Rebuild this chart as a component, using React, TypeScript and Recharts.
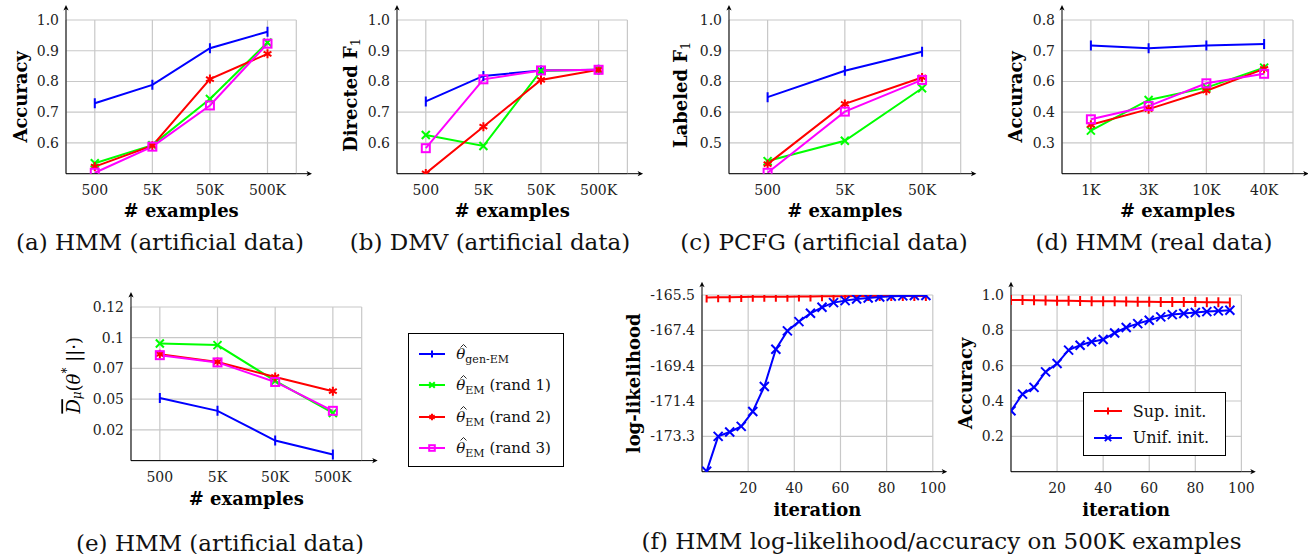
import React from 'react'
import { LineChart, Line, XAxis, YAxis, CartesianGrid, Legend } from 'recharts'

const SERIF = '"DejaVu Serif", serif'
const BLUE = '#0000ff'
const GREEN = '#00ff00'
const RED = '#ff0000'
const MAGENTA = '#ff00ff'

// x positions of the categories (index on a numeric axis)
const catPos4 = [1, 2, 3, 4]
const catPos3 = [1, 2, 3]

// (a) HMM, artificial data
const aSizes = ['500', '5K', '50K', '500K']
const aGenEM = [0.729, 0.789, 0.908, 0.962]
const aRand1 = [0.534, 0.593, 0.743, 0.927]
const aRand2 = [0.523, 0.591, 0.808, 0.89]
const aRand3 = [0.503, 0.588, 0.722, 0.923]
const aTicks = [0.6, 0.7, 0.8, 0.9, 1.0]
const aLabels = ['0.6', '0.7', '0.8', '0.9', '1.0']

// (b) DMV, artificial data
const bSizes = ['500', '5K', '50K', '500K']
const bGenEM = [0.735, 0.818, 0.836, 0.838]
const bRand1 = [0.626, 0.59, 0.835, 0.838]
const bRand2 = [0.501, 0.653, 0.805, 0.838]
const bRand3 = [0.583, 0.807, 0.836, 0.838]
const bTicks = [0.6, 0.7, 0.8, 0.9, 1.0]
const bLabels = ['0.6', '0.7', '0.8', '0.9', '1.0']

// (c) PCFG, artificial data (tick labels are printed unevenly in the original)
const cSizes = ['500', '5K', '50K']
const cGenEM = [0.749, 0.835, 0.897]
const cRand1 = [0.541, 0.607, 0.778]
const cRand2 = [0.531, 0.727, 0.813]
const cRand3 = [0.503, 0.702, 0.805]
const cTicks = [0.6, 0.7, 0.8, 0.9, 1.0]
const cLabels = ['0.5', '0.6', '0.8', '0.9', '1.0']

// (d) HMM, real data
const dSizes = ['1K', '3K', '10K', '40K']
const dGenEM = [0.717, 0.708, 0.717, 0.722]
const dRand1 = [0.44, 0.54, 0.58, 0.645]
const dRand2 = [0.459, 0.51, 0.57, 0.641]
const dRand3 = [0.477, 0.52, 0.594, 0.625]
const dTicks = [0.4, 0.5, 0.6, 0.7, 0.8]
const dLabels = ['0.3', '0.4', '0.6', '0.7', '0.8']

// (e) HMM, artificial data, divergence
const eSizes = ['500', '5K', '50K', '500K']
const eGenEM = [0.046, 0.0355, 0.0113, 0.0]
const eRand1 = [0.0903, 0.089, 0.0599, 0.0338]
const eRand2 = [0.0816, 0.0753, 0.0631, 0.0515]
const eRand3 = [0.0808, 0.0749, 0.059, 0.0355]
const eTicks = [0.02, 0.045, 0.07, 0.095, 0.12]
const eLabels = ['0.02', '0.05', '0.07', '0.1', '0.12']

// (f) log-likelihood per iteration
const llIter = [2, 7, 12, 17, 22, 27, 32, 37, 42, 47, 52, 57, 62, 67, 72, 77, 82, 87, 92, 97]
const llSup = [-165.64, -165.63, -165.62, -165.61, -165.6, -165.6, -165.59, -165.59, -165.58, -165.58, -165.57, -165.57, -165.57, -165.56, -165.56, -165.56, -165.55, -165.55, -165.55, -165.55]
const llUnif = [-175.23, -173.3, -173.06, -172.75, -171.93, -170.55, -168.49, -167.48, -166.97, -166.51, -166.18, -165.92, -165.81, -165.72, -165.67, -165.61, -165.57, -165.55, -165.53, -165.53]
const llTicks = [-173.3, -171.35, -169.4, -167.45, -165.5]
const llLabels = ['-173.3', '-171.4', '-169.4', '-167.4', '-165.5']

// (f) accuracy per iteration
const accIter = [0, 5, 10, 15, 20, 25, 30, 35, 40, 45, 50, 55, 60, 65, 70, 75, 80, 85, 90, 95]
const accSup = [0.972, 0.971, 0.97, 0.969, 0.968, 0.967, 0.966, 0.965, 0.965, 0.964, 0.963, 0.962, 0.962, 0.961, 0.961, 0.96, 0.96, 0.959, 0.959, 0.958]
const accUnif = [0.345, 0.439, 0.477, 0.565, 0.612, 0.688, 0.716, 0.735, 0.748, 0.785, 0.816, 0.838, 0.857, 0.876, 0.889, 0.895, 0.901, 0.906, 0.91, 0.914]
const accTicks = [0.2, 0.4, 0.6, 0.8, 1.0]
const accLabels = ['0.2', '0.4', '0.6', '0.8', '1.0']

const iterTicks = [20, 40, 60, 80, 100]
const iterLabels = ['20', '40', '60', '80', '100']

type MarkerKind = 'bar' | 'x' | 'star' | 'square'
type Series = { key: string; color: string; marker: MarkerKind; size: number; width: number }
type AxisSpec = { domain: [number, number]; ticks: number[]; labels: string[] }

const emSeries: Series[] = [
  { key: 'gen', color: BLUE, marker: 'bar', size: 5, width: 2 },
  { key: 'r1', color: GREEN, marker: 'x', size: 4, width: 2 },
  { key: 'r2', color: RED, marker: 'star', size: 4.5, width: 2 },
  { key: 'r3', color: MAGENTA, marker: 'square', size: 4, width: 2 },
]

const iterSeries: Series[] = [
  { key: 'sup', color: RED, marker: 'bar', size: 5, width: 2 },
  { key: 'unif', color: BLUE, marker: 'x', size: 4.5, width: 2 },
]

function sizeRows(xs: number[], gen: number[], r1: number[], r2: number[], r3: number[]) {
  return xs.map((x, i) => ({ x, gen: gen[i], r1: r1[i], r2: r2[i], r3: r3[i] }))
}

function iterRows(xs: number[], sup: number[], unif: number[]) {
  return xs.map((x, i) => ({ x, sup: sup[i], unif: unif[i] }))
}

function Mark({ kind, cx, cy, color, s, w }: { kind: MarkerKind; cx: number; cy: number; color: string; s: number; w: number }) {
  if (kind === 'bar') return <line x1={cx} x2={cx} y1={cy - s} y2={cy + s} stroke={color} strokeWidth={w} />
  if (kind === 'x')
    return (
      <g stroke={color} strokeWidth={w}>
        <line x1={cx - s} y1={cy - s} x2={cx + s} y2={cy + s} />
        <line x1={cx - s} y1={cy + s} x2={cx + s} y2={cy - s} />
      </g>
    )
  if (kind === 'star') {
    const a = s * 0.866
    const b = s * 0.5
    return (
      <g stroke={color} strokeWidth={w}>
        <line x1={cx} y1={cy - s} x2={cx} y2={cy + s} />
        <line x1={cx - a} y1={cy - b} x2={cx + a} y2={cy + b} />
        <line x1={cx - a} y1={cy + b} x2={cx + a} y2={cy - b} />
      </g>
    )
  }
  return <rect x={cx - s} y={cy - s} width={2 * s} height={2 * s} fill="none" stroke={color} strokeWidth={w} />
}

const YW = 80
const MT = 22
const XH = 62

type PanelProps = {
  plotLeft: number
  plotTop: number
  plotW: number
  plotH: number
  data: Record<string, number>[]
  series: Series[]
  xAxis: AxisSpec
  yAxis: AxisSpec
  xTitle: string
  xTitleGap: number
  yTitle: React.ReactNode
  yTitleDx: number
  yTitleDy?: number
  arrowX: number
  arrowY: number
  right?: number
  children?: React.ReactNode
}

const fmt = (spec: AxisSpec) => (v: number) => {
  const i = spec.ticks.findIndex((t) => Math.abs(t - v) < 1e-9)
  return i >= 0 ? spec.labels[i] : ''
}

function Panel(p: PanelProps) {
  const right = p.right ?? 24
  const width = YW + p.plotW + right
  const height = MT + p.plotH + XH
  const x0 = YW
  const y0 = MT + p.plotH
  const xEnd = YW + p.plotW
  const tipX = xEnd + p.arrowX
  const tipY = MT - p.arrowY
  const tcx = YW - p.yTitleDx
  const tcy = MT + p.plotH / 2 + (p.yTitleDy ?? 0)

  const xLabel = () => (
    <g>
      <line x1={xEnd} y1={y0} x2={tipX - 3} y2={y0} stroke="#000" strokeWidth={1} />
      <path d={`M${tipX},${y0} L${tipX - 5.5},${y0 - 2.6} L${tipX - 4},${y0} L${tipX - 5.5},${y0 + 2.6} Z`} fill="#000" />
      <text
        x={YW + p.plotW / 2}
        y={y0 + p.xTitleGap}
        textAnchor="middle"
        dominantBaseline="central"
        fontFamily={SERIF}
        fontSize={18}
        fontWeight="bold"
        fill="#000"
      >
        {p.xTitle}
      </text>
    </g>
  )

  const yLabel = () => (
    <g>
      <line x1={x0} y1={MT} x2={x0} y2={tipY + 3} stroke="#000" strokeWidth={1} />
      <path d={`M${x0},${tipY} L${x0 - 2.6},${tipY + 5.5} L${x0},${tipY + 4} L${x0 + 2.6},${tipY + 5.5} Z`} fill="#000" />
      <text
        x={tcx}
        y={tcy}
        transform={`rotate(-90 ${tcx} ${tcy})`}
        textAnchor="middle"
        dominantBaseline="central"
        fontFamily={SERIF}
        fontSize={18}
        fontWeight="bold"
        fill="#000"
      >
        {p.yTitle}
      </text>
    </g>
  )

  return (
    <div style={{ position: 'absolute', left: p.plotLeft - YW, top: p.plotTop - MT }}>
      <LineChart width={width} height={height} data={p.data} margin={{ top: MT, right, bottom: 0, left: 0 }}>
        <CartesianGrid stroke="#c8c8c8" strokeWidth={1.2} />
        <XAxis
          type="number"
          dataKey="x"
          domain={p.xAxis.domain}
          ticks={p.xAxis.ticks}
          interval={0}
          allowDataOverflow
          tickFormatter={fmt(p.xAxis)}
          tickLine={false}
          tickSize={0}
          tickMargin={11}
          height={XH}
          axisLine={{ stroke: '#000', strokeWidth: 1 }}
          tick={{ fill: '#222', fontSize: 14, fontFamily: SERIF }}
          label={xLabel}
        />
        <YAxis
          type="number"
          domain={p.yAxis.domain}
          ticks={p.yAxis.ticks}
          interval={0}
          allowDataOverflow
          tickFormatter={fmt(p.yAxis)}
          tickLine={false}
          tickSize={0}
          tickMargin={7}
          width={YW}
          axisLine={{ stroke: '#000', strokeWidth: 1 }}
          tick={{ fill: '#222', fontSize: 14, fontFamily: SERIF }}
          label={yLabel}
        />
        {p.series.map((s) => (
          <Line
            key={s.key}
            type="linear"
            dataKey={s.key}
            stroke={s.color}
            strokeWidth={s.width}
            isAnimationActive={false}
            activeDot={false}
            dot={(d: any) => (
              <Mark key={`${s.key}-${d.index}`} kind={s.marker} cx={d.cx} cy={d.cy} color={s.color} s={s.size} w={s.width} />
            )}
          />
        ))}
        {p.children}
      </LineChart>
    </div>
  )
}

function Swatch({ s, w }: { s: Series; w: number }) {
  return (
    <svg width={w} height={12} style={{ display: 'block', flex: 'none' }}>
      <line x1={0} y1={6} x2={w} y2={6} stroke={s.color} strokeWidth={s.width} />
      <Mark kind={s.marker} cx={w / 2} cy={6} color={s.color} s={s.size * 0.7} w={s.width} />
    </svg>
  )
}

// theta with a hat drawn as a small path, so the accent is not a second text run
const theta = (
  <span style={{ position: 'relative', display: 'inline-block', fontStyle: 'italic' }}>
    {'\u03b8'}
    <svg width={7} height={4} style={{ position: 'absolute', left: 3.5, top: -1.5, overflow: 'visible' }}>
      <polyline points="0.5,3.5 3.5,0.5 6.5,3.5" fill="none" stroke="#111" strokeWidth={0.9} />
    </svg>
  </span>
)
const sub = (t: string) => <span style={{ fontSize: 11, position: 'relative', top: 4 }}>{t}</span>

const emNames: React.ReactNode[] = [
  <>{theta}{sub('gen-EM')}</>,
  <>{theta}{sub('EM')} (rand 1)</>,
  <>{theta}{sub('EM')} (rand 2)</>,
  <>{theta}{sub('EM')} (rand 3)</>,
]
const iterNames = ['Sup. init.', 'Unif. init.']

const emLegend = () => (
  <div
    style={{
      boxSizing: 'border-box',
      width: 156,
      height: 134,
      border: '1px solid #000',
      background: '#fff',
      padding: '5px 0 0 10px',
      fontFamily: SERIF,
      fontSize: 15,
      color: '#111',
    }}
  >
    {emSeries.map((s, i) => (
      <div key={s.key} style={{ display: 'flex', alignItems: 'center', height: 31.2, whiteSpace: 'nowrap' }}>
        <Swatch s={s} w={26} />
        <span style={{ marginLeft: 11 }}>{emNames[i]}</span>
      </div>
    ))}
  </div>
)

const iterLegend = () => (
  <div
    style={{
      boxSizing: 'border-box',
      width: 143,
      height: 64,
      border: '1px solid #000',
      background: '#fff',
      padding: '5px 0 0 10px',
      fontFamily: SERIF,
      fontSize: 16,
      color: '#111',
    }}
  >
    {iterSeries.map((s, i) => (
      <div key={s.key} style={{ display: 'flex', alignItems: 'center', height: 26.7, whiteSpace: 'nowrap' }}>
        <Swatch s={s} w={28} />
        <span style={{ marginLeft: 11 }}>{iterNames[i]}</span>
      </div>
    ))}
  </div>
)

function Caption({ cx, cy, children }: { cx: number; cy: number; children: React.ReactNode }) {
  return (
    <div
      style={{
        position: 'absolute',
        left: cx,
        top: cy,
        transform: 'translate(-50%, -50%)',
        whiteSpace: 'nowrap',
        fontFamily: SERIF,
        fontSize: 23,
        lineHeight: 1,
        color: '#111',
      }}
    >
      {children}
    </div>
  )
}

const catAxis = (labels: string[], pos: number[]): AxisSpec => ({
  domain: [0.5, pos.length + 0.5],
  ticks: pos,
  labels,
})

export default function App() {
  return (
    <div style={{ position: 'absolute', left: 0, top: 0, width: 1308, height: 554, background: '#fff', overflow: 'hidden' }}>
      <Panel
        plotLeft={65.7}
        plotTop={20}
        plotW={230.3}
        plotH={153.7}
        data={sizeRows(catPos4, aGenEM, aRand1, aRand2, aRand3)}
        series={emSeries}
        xAxis={catAxis(aSizes, catPos4)}
        yAxis={{ domain: [0.5, 1.0], ticks: aTicks, labels: aLabels }}
        xTitle="# examples"
        xTitleGap={36.5}
        yTitle="Accuracy"
        yTitleDx={45.7}
        arrowX={15.7}
        arrowY={15}
      />
      <Panel
        plotLeft={397.3}
        plotTop={20}
        plotW={230.4}
        plotH={153.7}
        data={sizeRows(catPos4, bGenEM, bRand1, bRand2, bRand3)}
        series={emSeries}
        xAxis={catAxis(bSizes, catPos4)}
        yAxis={{ domain: [0.5, 1.0], ticks: bTicks, labels: bLabels }}
        xTitle="# examples"
        xTitleGap={36.5}
        yTitle={
          <>
            <tspan>Directed F</tspan>
            <tspan dy={5} fontWeight="normal" fontSize={13}>1</tspan>
          </>
        }
        yTitleDx={46.6}
        yTitleDy={-2}
        arrowX={15.7}
        arrowY={15}
      />
      <Panel
        plotLeft={729.3}
        plotTop={20}
        plotW={231.7}
        plotH={153.7}
        data={sizeRows(catPos3, cGenEM, cRand1, cRand2, cRand3)}
        series={emSeries}
        xAxis={catAxis(cSizes, catPos3)}
        yAxis={{ domain: [0.5, 1.0], ticks: cTicks, labels: cLabels }}
        xTitle="# examples"
        xTitleGap={36.5}
        yTitle={
          <>
            <tspan>Labeled F</tspan>
            <tspan dy={5} fontWeight="normal" fontSize={13}>1</tspan>
          </>
        }
        yTitleDx={48.6}
        yTitleDy={-2}
        arrowX={15.7}
        arrowY={15}
      />
      <Panel
        plotLeft={1061.7}
        plotTop={20}
        plotW={231}
        plotH={153.7}
        data={sizeRows(catPos4, dGenEM, dRand1, dRand2, dRand3)}
        series={emSeries}
        xAxis={catAxis(dSizes, catPos4)}
        yAxis={{ domain: [0.3, 0.8], ticks: dTicks, labels: dLabels }}
        xTitle="# examples"
        xTitleGap={36.5}
        yTitle="Accuracy"
        yTitleDx={46.7}
        arrowX={15.7}
        arrowY={15}
      />
      <Panel
        plotLeft={131}
        plotTop={306.7}
        plotW={230.7}
        plotH={153.6}
        data={sizeRows(catPos4, eGenEM, eRand1, eRand2, eRand3)}
        series={emSeries}
        xAxis={catAxis(eSizes, catPos4)}
        yAxis={{ domain: [-0.005, 0.12], ticks: eTicks, labels: eLabels }}
        xTitle="# examples"
        xTitleGap={38}
        yTitle={
          <>
            <tspan fontWeight="normal" fontStyle="italic" style={{ textDecoration: 'overline' }}>D</tspan>
            <tspan fontWeight="normal" fontStyle="italic" fontSize={12} dy={4}>{'\u03bc'}</tspan>
            <tspan fontWeight="normal" dy={-4}>(</tspan>
            <tspan fontWeight="normal" fontStyle="italic">{'\u03b8'}</tspan>
            <tspan fontWeight="normal" fontSize={12} dy={-6}>*</tspan>
            <tspan fontWeight="normal" dy={6}>{' ||\u00b7)'}</tspan>
          </>
        }
        yTitleDx={57.7}
        yTitleDy={-8.5}
        arrowX={16}
        arrowY={15}
        right={215}
      >
        <Legend
          layout="vertical"
          align="center"
          verticalAlign="middle"
          content={emLegend}
          wrapperStyle={{ left: 408.3 - 51, top: 332.7 - 284.7, width: 156, height: 134 }}
        />
      </Panel>
      <Panel
        plotLeft={701.5}
        plotTop={295}
        plotW={230.8}
        plotH={176.7}
        data={iterRows(llIter, llSup, llUnif)}
        series={iterSeries}
        xAxis={{ domain: [0, 100], ticks: iterTicks, labels: iterLabels }}
        yAxis={{ domain: [-175.25, -165.5], ticks: llTicks, labels: llLabels }}
        xTitle="iteration"
        xTitleGap={38.3}
        yTitle="log-likelihood"
        yTitleDx={68.2}
        arrowX={14.4}
        arrowY={13.3}
      />
      <Panel
        plotLeft={1010.6}
        plotTop={295}
        plotW={230.4}
        plotH={176.7}
        data={iterRows(accIter, accSup, accUnif)}
        series={iterSeries}
        xAxis={{ domain: [0, 100], ticks: iterTicks, labels: iterLabels }}
        yAxis={{ domain: [0, 1.0], ticks: accTicks, labels: accLabels }}
        xTitle="iteration"
        xTitleGap={38.3}
        yTitle="Accuracy"
        yTitleDx={45.6}
        arrowX={14.4}
        arrowY={13.3}
      >
        <Legend
          layout="vertical"
          align="center"
          verticalAlign="middle"
          content={iterLegend}
          wrapperStyle={{ left: 1082.7 - 930.6, top: 391.7 - 273, width: 143, height: 64 }}
        />
      </Panel>
      <Caption cx={160} cy={241.5}>(a) HMM (artificial data)</Caption>
      <Caption cx={490} cy={241.5}>(b) DMV (artificial data)</Caption>
      <Caption cx={824} cy={241.5}>(c) PCFG (artificial data)</Caption>
      <Caption cx={1154} cy={241.5}>(d) HMM (real data)</Caption>
      <Caption cx={220} cy={543}>(e) HMM (artificial data)</Caption>
      <Caption cx={941.5} cy={541}>(f) HMM log-likelihood/accuracy on 500K examples</Caption>
    </div>
  )
}
